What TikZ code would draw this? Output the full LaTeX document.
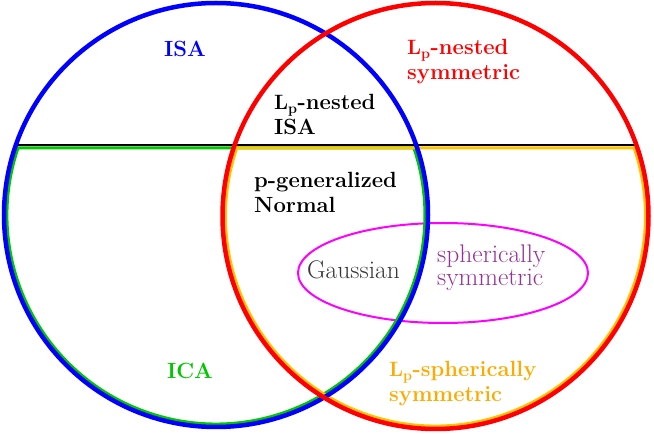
\documentclass[tikz,border=0pt]{standalone}
\usepackage{amsmath}
\begin{document}
\begin{tikzpicture}[x=1pt,y=1pt,
  lbl/.style={inner sep=0pt, align=left, font=\fontsize{22}{25}\selectfont\bfseries},
  lblr/.style={inner sep=0pt, align=left, font=\fontsize{25.5}{23}\selectfont}]
\definecolor{cgreen}{RGB}{0,200,0}
\definecolor{cgold}{RGB}{255,195,0}
\definecolor{corange}{RGB}{255,170,0}
\definecolor{cpurple}{RGB}{150,50,150}
\definecolor{cgray}{RGB}{55,55,55}
\definecolor{cmag}{RGB}{255,0,255}
\useasboundingbox (0,0) rectangle (654,434);
% ellipse
\draw[cmag, line width=2pt] (443,161) ellipse [x radius=145, y radius=50];
% separator line
\draw[black, line width=2pt] (15.9,289) -- (636.3,289);
% green half region (ICA)
\draw[cgreen, line width=3pt] (18,286) arc[start angle=161.3, end angle=378.7, radius=209] -- cycle;
% yellow half region (Lp-spherically symmetric)
\draw[cgold, line width=3pt] (236.8,286) arc[start angle=161.1, end angle=378.9, radius=210] -- cycle;
% main circles
\draw[blue, line width=4.5pt] (216,219) circle [radius=212];
\draw[red, line width=4.5pt] (435.5,218) circle [radius=213];
% labels
\node[lbl, text=blue] (isa) at (185,385) {ISA};
\node[lbl, text=red, anchor=west] (lpn) at (407,372) {$\mathbf{L_p}$-nested\\symmetric};
\node[lbl, anchor=west] (lpisa) at (274,319) {$\mathbf{L_p}$-nested\\ISA};
\node[lbl, anchor=west] (pgen) at (254,242) {p-generalized\\Normal};
\node[lblr, text=cgray, anchor=west] (gauss) at (307,164) {Gaussian};
\node[lblr, text=cpurple, anchor=west] (sph) at (437,166) {spherically\\symmetric};
\node[lbl, text=cgreen] (ica) at (190,63) {ICA};
\node[lbl, text=corange, anchor=west] (lps) at (389,50) {$\mathbf{L_p}$-spherically\\symmetric};
\end{tikzpicture}
\end{document}
